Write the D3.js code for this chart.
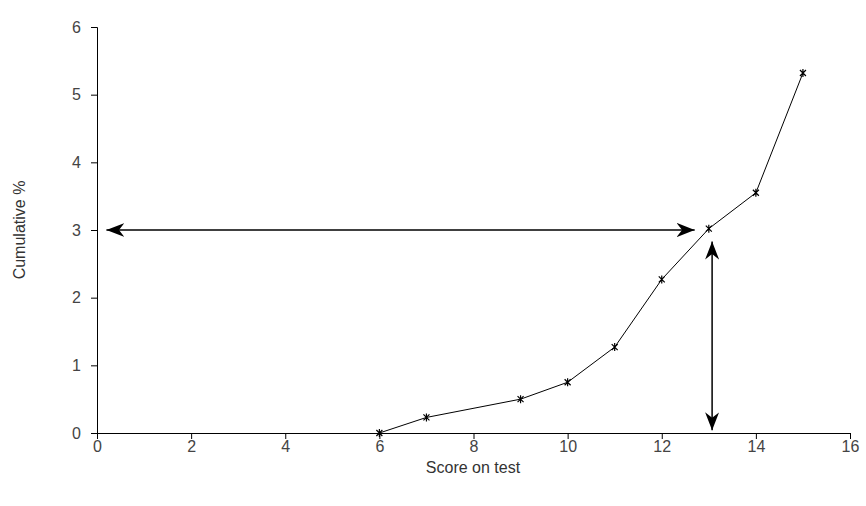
<!DOCTYPE html><html><head><script src="https://cdn.jsdelivr.net/npm/d3@7"></script>
<style>body{margin:0;background:#fff}text{font-family:"Liberation Sans",Arial,sans-serif;font-size:16px;fill:#000}</style></head><body>
<svg id="c" width="866" height="506"></svg>
<script>
const scores=[6,7,9,10,11,12,13,14,15];
const cumPct=[0,0.23,0.5,0.75,1.27,2.27,3.02,3.55,5.32];
const xTicks=[0,2,4,6,8,10,12,14,16];
const yTicks=[0,1,2,3,4,5,6];
const svg=d3.select("#c");
const x=d3.scaleLinear().domain([0,16]).range([97,850]);
const y=d3.scaleLinear().domain([0,6]).range([433,27]);
const ax=svg.append("g").attr("transform","translate(0,433)").call(d3.axisBottom(x).tickValues(xTicks).tickSize(6).tickPadding(2).tickFormat(d3.format("d")));
const ay=svg.append("g").attr("transform","translate(97,0)").call(d3.axisLeft(y).tickValues(yTicks).tickSize(6).tickPadding(10).tickFormat(d3.format("d")));
[ax,ay].forEach(a=>{a.selectAll("path,line").attr("stroke","#000");a.selectAll("text").style("font-size","16px").style("font-family","Liberation Sans, Arial, sans-serif").style("fill","#444");});
svg.append("text").attr("x",473).attr("y",473).attr("text-anchor","middle").style("fill","#333").text("Score on test");
svg.append("text").attr("transform","translate(25,230) rotate(-90)").attr("text-anchor","middle").style("fill","#333").text("Cumulative %");
const pts=scores.map((s,i)=>[s,cumPct[i]]);
svg.append("path").attr("d",d3.line().x(d=>x(d[0])).y(d=>y(d[1]))(pts)).attr("fill","none").attr("stroke","#000").attr("stroke-width",1);
const m=svg.append("g").selectAll("g").data(pts).join("g").attr("transform",d=>`translate(${x(d[0])},${y(d[1])})`);
m.append("path").attr("d","M-3,-3L3,3M-3,3L3,-3M0,-4L0,4").attr("stroke","#000").attr("stroke-width",1.2);
const defs=svg.append("defs");
defs.append("marker").attr("id","ah").attr("viewBox","0 0 10 10").attr("preserveAspectRatio","none").attr("refX",10).attr("refY",5).attr("markerWidth",18).attr("markerHeight",14).attr("markerUnits","userSpaceOnUse").attr("orient","auto-start-reverse")
 .append("path").attr("d","M0,0L10,5L0,10L3,5Z").attr("fill","#000");
svg.append("line").attr("x1",x(0.2)).attr("x2",x(12.7)).attr("y1",y(3)).attr("y2",y(3)).attr("stroke","#000").attr("stroke-width",1.5).attr("marker-start","url(#ah)").attr("marker-end","url(#ah)");
svg.append("line").attr("x1",x(13.07)).attr("x2",x(13.07)).attr("y1",y(2.83)).attr("y2",y(0.04)).attr("stroke","#000").attr("stroke-width",1.5).attr("marker-start","url(#ah)").attr("marker-end","url(#ah)");
</script></body></html>
